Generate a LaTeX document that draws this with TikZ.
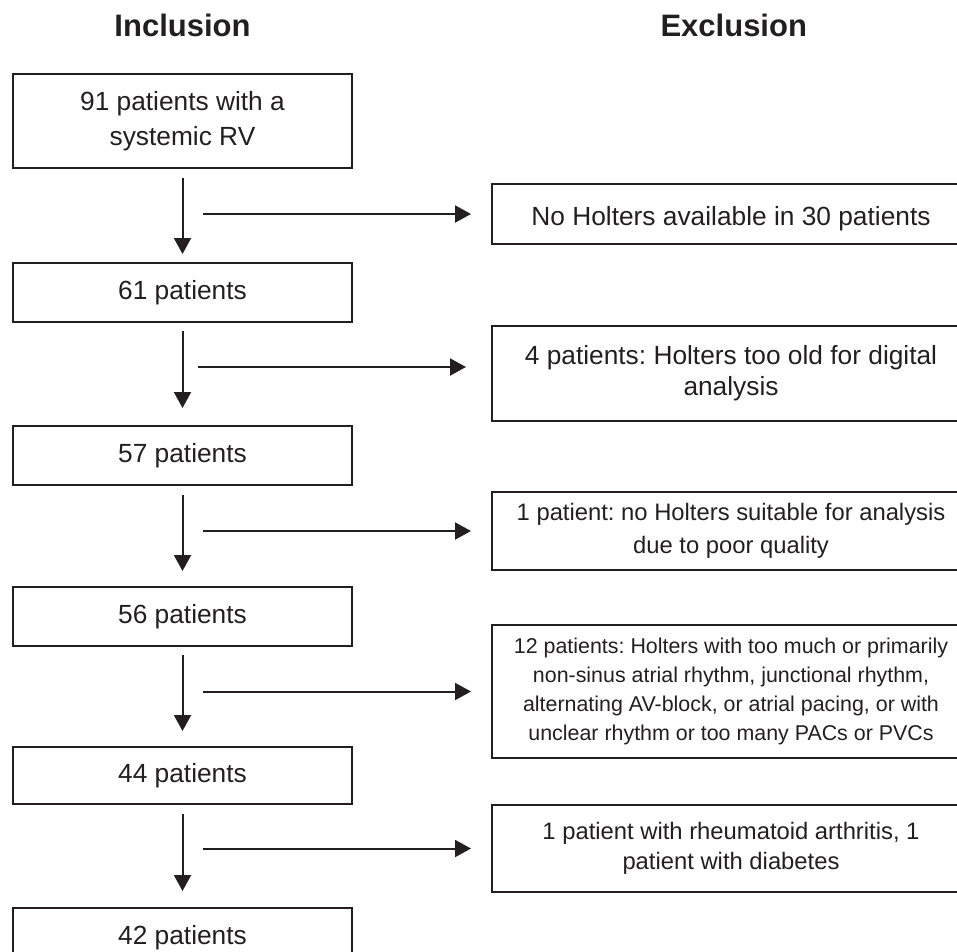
\documentclass[tikz,border=0pt]{standalone}
\usepackage{fontspec}
\setmainfont{Liberation Sans}
\frenchspacing
\usetikzlibrary{positioning,arrows.meta}
\definecolor{ink}{HTML}{231F20}

\begin{document}
\begin{tikzpicture}[x=1pt, y=1pt, ink, line width=2pt, -{Triangle[length=16pt,width=17pt]}, node distance=100pt,
    in node/.style={rectangle, draw, minimum width=339pt, minimum height=59pt, align=center},
    ex node/.style={rectangle, draw, minimum width=478pt, align=center,
      execute at begin node={\rule{0pt}{\dimexpr 0.73em+10pt\relax}}},
    head/.style={font=\fontsize{31}{36}\selectfont\bfseries, inner sep=0pt}]
        \tikzstyle{every node}=[font=\fontsize{26.3}{35}\selectfont]
        \useasboundingbox (0,0) rectangle (957,-951);
        \clip (0,0) rectangle (957,-951);

          \node[in node, minimum height=94pt] (1) at (182.5,-121) {91 patients with a\\systemic RV};
          \node[in node] (2) [below=93pt of 1] {61 patients};
          \node[in node] (3) [below=102pt of 2] {57 patients};
          \node[in node] (4) [below=100pt of 3] {56 patients};
          \node[in node, minimum height=57pt] (5) [below=99pt of 4] {44 patients};
          \node[in node] (6) [below=102pt of 5] {42 patients};

          \node[ex node, minimum height=60pt] (7) [below right=14pt and 138pt of 1] {No Holters available in 30 patients};
          \node[ex node, minimum height=95pt, font=\fontsize{26.3}{31}\selectfont] (8) [below=80pt of 7] {4 patients: Holters too old for digital\\analysis};
          \node[ex node, minimum height=78pt, font=\fontsize{23.8}{33}\selectfont] (9) [below=69pt of 8] {1 patient: no Holters suitable for analysis\\due to poor quality};
          \node[ex node, minimum height=133pt, font=\fontsize{21.4}{29}\selectfont] (10) [below=53pt of 9] {12 patients: Holters with too much or primarily\\non-sinus atrial rhythm, junctional rhythm,\\alternating AV-block, or atrial pacing, or with\\unclear rhythm or too many PACs or PVCs};
          \node[ex node, minimum height=87pt, font=\fontsize{23.8}{30}\selectfont] (11) [below=45pt of 10] {1 patient with rheumatoid arthritis, 1\\patient with diabetes};

          \node[head] (inc) [above=35pt of 1] {Inclusion};
          \node[head] (exc) [right=408pt of inc] {Exclusion};

          \coordinate[xshift=20.5pt] (s7) at (1.south |- 7);
          \coordinate[xshift=15pt, yshift=6.5pt] (s8) at (2.south |- 8);
          \coordinate[xshift=20.5pt] (s9) at (3.south |- 9);
          \coordinate[xshift=20.5pt] (s10) at (4.south |- 10);
          \coordinate[xshift=20.5pt] (s11) at (5.south |- 11);

          \path
            (1) edge[shorten <=9pt, shorten >=8pt] (2)
            (2) edge[shorten <=8pt, shorten >=17pt] (3)
            (3) edge[shorten <=9pt, shorten >=15pt] (4)
            (4) edge[shorten <=8pt, shorten >=15pt] (5)
            (5) edge[shorten <=9pt, shorten >=16pt] (6)
            (s7) edge[shorten >=20pt] (7)
            (s8) edge[shorten >=25pt] (s8 -| 8.west)
            (s9) edge[shorten >=20pt] (9)
            (s10) edge[shorten >=20pt] (10)
            (s11) edge[shorten >=20pt] (11);

        \end{tikzpicture}
\end{document}
